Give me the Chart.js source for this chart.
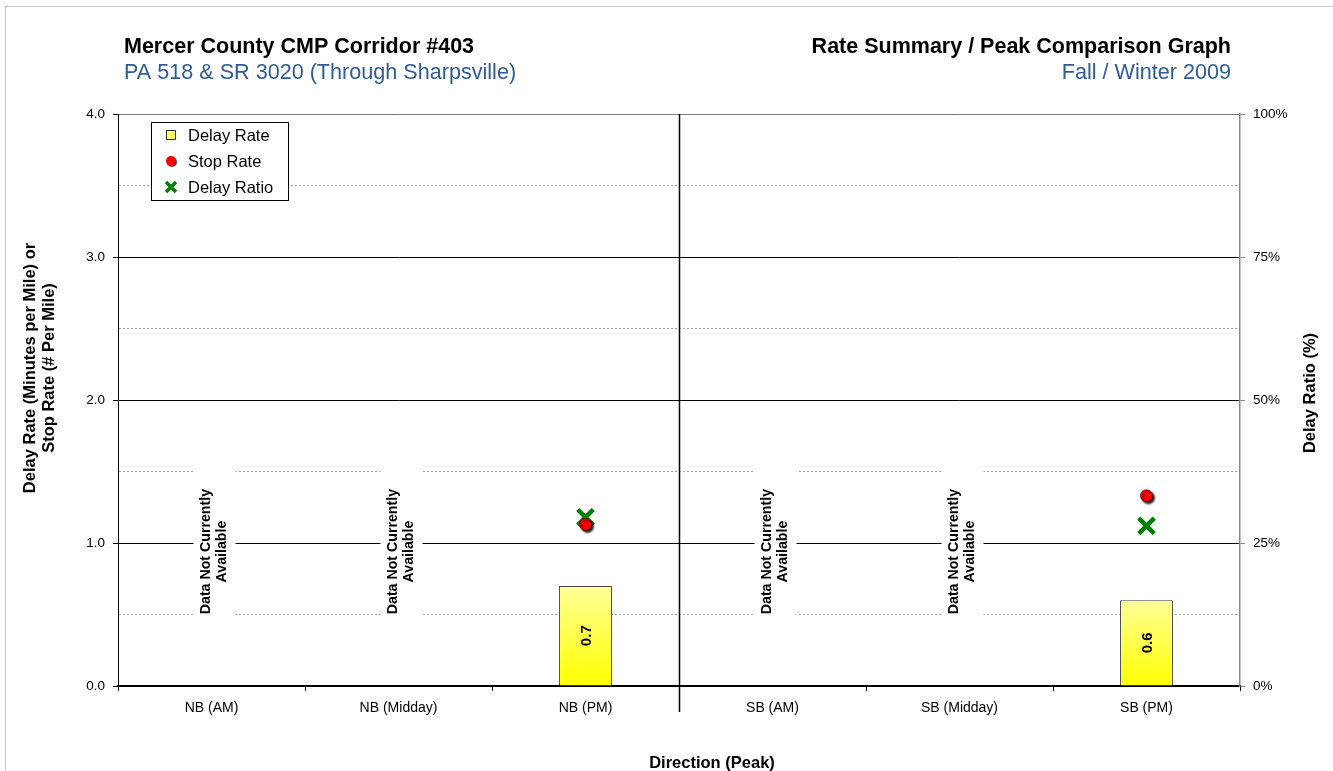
<!DOCTYPE html>
<html>
<head>
<meta charset="utf-8">
<title>Rate Summary / Peak Comparison Graph</title>
<script src="https://cdn.jsdelivr.net/npm/chart.js@4.4.1/dist/chart.umd.min.js"></script>
<style>
  html, body { margin: 0; padding: 0; background: #fff; }
  #wrap { position: relative; width: 1333px; height: 771px; overflow: hidden; }
  #frame { position: absolute; left: 5px; top: 6px; width: 1360px; height: 800px; border: 1px solid #c8c8c8; box-sizing: border-box; }
  #chart { position: absolute; left: 0; top: 0; }
</style>
</head>
<body>
<div id="wrap">
  <div id="frame"></div>
  <canvas id="chart" width="1333" height="771"></canvas>
</div>
<script>
// chart data
const categories = ['NB (AM)', 'NB (Midday)', 'NB (PM)', 'SB (AM)', 'SB (Midday)', 'SB (PM)'];
const delayRate = [null, null, 0.7, null, null, 0.6];     // minutes per mile
const stopRate = [null, null, 1.13, null, null, 1.33];    // stops per mile
const delayRatio = [null, null, 0.295, null, null, 0.28]; // share, right axis
const leftTicks = [0, 1, 2, 3, 4];
const rightTicks = [0, 0.25, 0.5, 0.75, 1];

const FONT = '"Liberation Sans", Arial, sans-serif';
const BLUE = '#2f5b97';

// headings and axis titles (text only)
const headings = {
  title: 'Mercer County CMP Corridor #403',
  subtitle: 'PA 518 & SR 3020 (Through Sharpsville)',
  rightTitle: 'Rate Summary / Peak Comparison Graph',
  rightSubtitle: 'Fall / Winter 2009',
  yTitle: ['Delay Rate (Minutes per Mile) or', 'Stop Rate (# Per Mile)'],
  y2Title: 'Delay Ratio (%)',
  xTitle: 'Direction (Peak)',
  noData: ['Data Not Currently', 'Available']
};

const isHalf = (c) => c.tick && Math.abs(c.tick.value % 1) > 0.001;

// drop shadow under the stop rate dots
const shadowPlugin = {
  id: 'shadow',
  beforeDatasetDraw(chart, args) {
    if (chart.data.datasets[args.index].label !== 'Stop Rate') return;
    const ctx = chart.ctx;
    ctx.save();
    ctx.shadowColor = 'rgba(0,0,0,0.9)';
    ctx.shadowOffsetX = 2;
    ctx.shadowOffsetY = 2;
    ctx.shadowBlur = 2;
  },
  afterDatasetDraw(chart, args) {
    if (chart.data.datasets[args.index].label !== 'Stop Rate') return;
    chart.ctx.restore();
  }
};

// white "no data" boxes cover the gridlines
const noDataPlugin = {
  id: 'noData',
  beforeDatasetsDraw(chart) {
    const ctx = chart.ctx;
    const x = chart.scales.x, y = chart.scales.y;
    const top = y.getPixelForValue(1.56), bot = y.getPixelForValue(0.43);
    const ty = y.getPixelForValue(0.94);
    categories.forEach((c, i) => {
      if (delayRate[i] !== null || stopRate[i] !== null) return;
      const cx = x.getPixelForValue(i) + 3;
      ctx.save();
      ctx.fillStyle = '#fff';
      ctx.fillRect(cx - 21, top, 42, bot - top);
      ctx.translate(cx, ty);
      ctx.rotate(-Math.PI / 2);
      ctx.fillStyle = '#000';
      ctx.font = 'bold 14.2px ' + FONT;
      ctx.textAlign = 'center';
      ctx.textBaseline = 'middle';
      ctx.fillText(headings.noData[0], 0, -8);
      ctx.fillText(headings.noData[1], 0, 8);
      ctx.restore();
    });
  }
};

const overlayPlugin = {
  id: 'overlay',
  afterDatasetsDraw(chart) {
    const ctx = chart.ctx;
    const area = chart.chartArea;
    const x = chart.scales.x;

    // NB / SB divider
    const dx = Math.round((x.getPixelForValue(2) + x.getPixelForValue(3)) / 2) + 0.5;
    ctx.save();
    ctx.strokeStyle = '#000';
    ctx.lineWidth = 1.5;
    ctx.beginPath();
    ctx.moveTo(dx, area.top);
    ctx.lineTo(dx, area.bottom + 26);
    ctx.stroke();
    ctx.restore();

    // bar value labels
    const meta = chart.getDatasetMeta(0);
    meta.data.forEach((bar, i) => {
      const v = delayRate[i];
      if (v === null) return;
      ctx.save();
      ctx.translate(bar.x, (bar.y + bar.base) / 2);
      ctx.rotate(-Math.PI / 2);
      ctx.fillStyle = '#000';
      ctx.font = 'bold 15px ' + FONT;
      ctx.textAlign = 'center';
      ctx.textBaseline = 'middle';
      ctx.fillText(v.toFixed(1), 0, 1);
      ctx.restore();
    });

    // legend box
    const lx = 151, ly = 122, lw = 137, lh = 78;
    ctx.save();
    ctx.fillStyle = '#fff';
    ctx.fillRect(lx, ly, lw, lh);
    ctx.strokeStyle = '#000';
    ctx.lineWidth = 1;
    ctx.strokeRect(lx + 0.5, ly + 0.5, lw, lh);
    ctx.font = '16.5px ' + FONT;
    ctx.textBaseline = 'middle';
    ctx.fillStyle = '#000';
    const rows = [135, 161, 187];
    chart.data.datasets.forEach((ds, i) => {
      const ry = rows[i], mx = 171;
      if (ds.type === 'bar') {
        ctx.fillStyle = '#ffff66';
        ctx.fillRect(mx - 4.5, ry - 4.5, 9, 9);
        ctx.strokeStyle = '#333';
        ctx.strokeRect(mx - 4.5, ry - 4.5, 9, 9);
      } else if (ds.pointStyle === 'circle') {
        ctx.save();
        ctx.shadowColor = 'rgba(0,0,0,0.8)';
        ctx.shadowOffsetX = 1; ctx.shadowOffsetY = 1; ctx.shadowBlur = 1;
        ctx.fillStyle = ds.backgroundColor;
        ctx.beginPath();
        ctx.arc(mx, ry, 5, 0, Math.PI * 2);
        ctx.fill();
        ctx.restore();
      } else {
        ctx.strokeStyle = ds.borderColor;
        ctx.lineWidth = 3.5;
        ctx.beginPath();
        ctx.moveTo(mx - 5, ry - 5); ctx.lineTo(mx + 5, ry + 5);
        ctx.moveTo(mx + 5, ry - 5); ctx.lineTo(mx - 5, ry + 5);
        ctx.stroke();
      }
      ctx.fillStyle = '#000';
      ctx.fillText(ds.label, 188, ry + 1);
    });
    ctx.restore();
  },
  afterDraw(chart) {
    const ctx = chart.ctx;
    ctx.save();
    ctx.textBaseline = 'alphabetic';
    ctx.fillStyle = '#000';
    ctx.font = 'bold 21.5px ' + FONT;
    ctx.textAlign = 'left';
    ctx.fillText(headings.title, 124, 53);
    ctx.textAlign = 'right';
    ctx.fillText(headings.rightTitle, 1231, 53);
    ctx.fillStyle = BLUE;
    ctx.font = '21.6px ' + FONT;
    ctx.textAlign = 'left';
    ctx.fillText(headings.subtitle, 124, 79);
    ctx.textAlign = 'right';
    ctx.fillText(headings.rightSubtitle, 1231, 79);

    // axis titles
    ctx.fillStyle = '#000';
    ctx.font = 'bold 16.5px ' + FONT;
    ctx.textAlign = 'center';
    ctx.textBaseline = 'middle';
    ctx.fillText(headings.xTitle, 712, 763);

    ctx.save();
    ctx.translate(40, 368);
    ctx.rotate(-Math.PI / 2);
    ctx.fillText(headings.yTitle[0], 0, -9.5);
    ctx.fillText(headings.yTitle[1], 0, 9.5);
    ctx.restore();

    ctx.save();
    ctx.translate(1310, 393);
    ctx.rotate(-Math.PI / 2);
    ctx.fillText(headings.y2Title, 0, 0);
    ctx.restore();
    ctx.restore();
  }
};

const ctx = document.getElementById('chart').getContext('2d');
new Chart(ctx, {
  data: {
    labels: categories,
    datasets: [
      {
        type: 'bar',
        label: 'Delay Rate',
        data: delayRate,
        yAxisID: 'y',
        order: 2,
        backgroundColor: (c) => {
          const chart = c.chart;
          if (!chart.chartArea || c.raw == null) return '#ffff66';
          const y = chart.scales.y;
          const g = chart.ctx.createLinearGradient(0, y.getPixelForValue(c.raw), 0, y.getPixelForValue(0));
          g.addColorStop(0, '#ffff99');
          g.addColorStop(1, '#ffff00');
          return g;
        },
        borderColor: '#444',
        borderWidth: 1,
        categoryPercentage: 1,
        barPercentage: 0.283
      },
      {
        type: 'line',
        label: 'Stop Rate',
        data: stopRate,
        yAxisID: 'y',
        order: 0,
        showLine: false,
        pointStyle: 'circle',
        pointRadius: 6,
        pointHoverRadius: 6,
        backgroundColor: '#ff0000',
        borderColor: '#5a0000',
        pointBorderWidth: 0.75
      },
      {
        type: 'line',
        label: 'Delay Ratio',
        data: delayRatio,
        yAxisID: 'y2',
        order: 1,
        showLine: false,
        pointStyle: 'crossRot',
        pointRadius: 11,
        pointHoverRadius: 11,
        backgroundColor: '#008000',
        borderColor: '#008000',
        pointBorderWidth: 4.5
      }
    ]
  },
  options: {
    responsive: false,
    animation: false,
    layout: { padding: { top: 114, left: 0, right: 0, bottom: 0 } },
    plugins: {
      legend: { display: false },
      tooltip: { enabled: false }
    },
    scales: {
      x: {
        offset: true,
        grid: { offset: true, drawOnChartArea: false, tickLength: 5, tickColor: '#000' },
        border: { color: '#000', width: 1.5 },
        ticks: { color: '#000', font: { family: FONT, size: 14 }, padding: 9, maxRotation: 0 },
        afterFit: (s) => { s.height = 85; }
      },
      y: {
        position: 'left',
        min: 0,
        max: 4,
        ticks: {
          stepSize: 0.5,
          color: '#000',
          font: { family: FONT, size: 13.5 },
          padding: 8,
          callback: (v) => leftTicks.includes(v) ? v.toFixed(1) : ''
        },
        grid: {
          color: (c) => isHalf(c) ? '#a0a0a0' : (c.tick && c.tick.value === 4 ? '#808080' : '#000'),
          lineWidth: 1,
          tickLength: 5,
          tickColor: (c) => isHalf(c) ? 'rgba(0,0,0,0)' : '#000'
        },
        border: { color: '#000', width: 1, dash: (c) => isHalf(c) ? [2, 2] : [] },
        afterFit: (s) => { s.width = 118; }
      },
      y2: {
        position: 'right',
        min: 0,
        max: 1,
        ticks: {
          stepSize: 0.25,
          color: '#000',
          font: { family: FONT, size: 13.5 },
          padding: 8,
          callback: (v) => rightTicks.includes(v) ? Math.round(v * 100) + '%' : ''
        },
        grid: { drawOnChartArea: false, tickLength: 5, tickColor: '#888' },
        border: { color: '#888', width: 1.5 },
        afterFit: (s) => { s.width = 93; }
      }
    }
  },
  plugins: [shadowPlugin, noDataPlugin, overlayPlugin]
});
</script>
</body>
</html>
